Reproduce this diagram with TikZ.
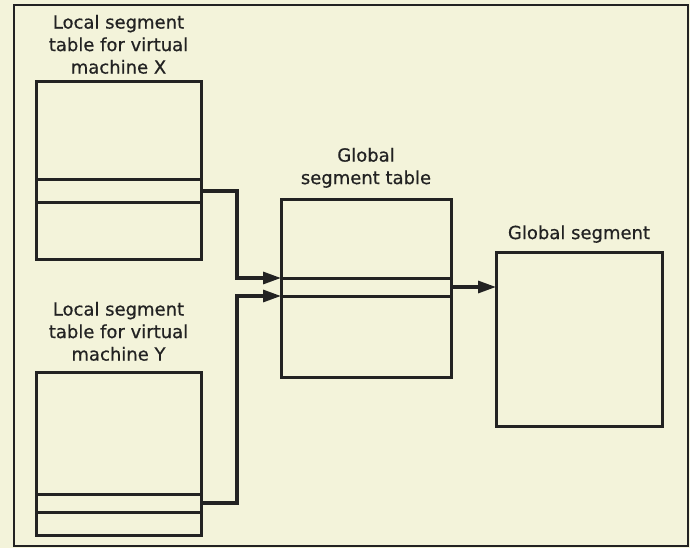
\documentclass[tikz,border=0pt]{standalone}
\usepackage{fontspec}
\setmainfont{DejaVu Sans}
\newfontfamily\labelfont[FakeBold=0.6]{DejaVu Sans}
\usepackage{xcolor}
\usepackage{tikz}
\usetikzlibrary{arrows.meta,positioning}

\definecolor{paper}{HTML}{F3F3DA}
\definecolor{ink}{HTML}{222222}

\begin{document}
\begin{tikzpicture}[
  x=1pt, y=-1pt,
  cell/.style={
    draw=ink,
    line width=3pt,
    inner sep=0pt,
    outer sep=0pt,
    minimum width=165pt
  },
  caption/.style={
    align=center,
    inner sep=0pt,
    text=ink,
    font=\labelfont\fontsize{18pt}{22.5pt}\selectfont
  },
  arrow/.style={-{Triangle[length=18pt,width=12pt]},line width=3.2pt,draw=ink}
]
  \useasboundingbox[fill=paper] (0,0) rectangle (690,548);
  \draw[ink,line width=2pt] (14,5) rectangle (688,546);

  % local table of machine X
  \node[cell,anchor=north west,minimum height=98pt] (xtop) at (36,82) {};
  \node[cell,below=0pt of xtop,minimum height=22pt] (xrow) {};
  \node[cell,below=0pt of xrow,minimum height=57pt] (xbot) {};
  \node[caption,above=8pt of xtop] (xcap) {Local segment\\table for virtual\\machine X};

  % local table of machine Y
  \node[cell,anchor=north west,minimum height=122pt] (ytop) at (36,372) {};
  \node[cell,below=0pt of ytop,minimum height=18pt] (yrow) {};
  \node[cell,below=0pt of yrow,minimum height=23pt] (ybot) {};
  \node[caption,above=11pt of ytop] (ycap) {Local segment\\table for virtual\\machine Y};

  % global segment table
  \node[cell,anchor=north west,minimum width=170pt,minimum height=79pt] (gtop) at (281,199) {};
  \node[cell,below=0pt of gtop,minimum width=170pt,minimum height=18pt] (grow) {};
  \node[cell,below=0pt of grow,minimum width=170pt,minimum height=81pt] (gbot) {};
  \node[caption,above=11pt of gtop] (gcap) {Global\\segment table};

  % the segment itself
  \node[cell,anchor=north west,minimum width=166pt,minimum height=174pt] (seg) at (496,252) {};
  \node[caption,above=9pt of seg] (segcap) {Global segment};

  \draw[arrow] (xrow.east) -- ++(36,0) |- (grow.north west);
  \draw[arrow] (yrow.east) -- ++(36,0) |- (grow.south west);
  \draw[arrow] (grow.east) -- (grow.east -| seg.west);
\end{tikzpicture}
\end{document}
